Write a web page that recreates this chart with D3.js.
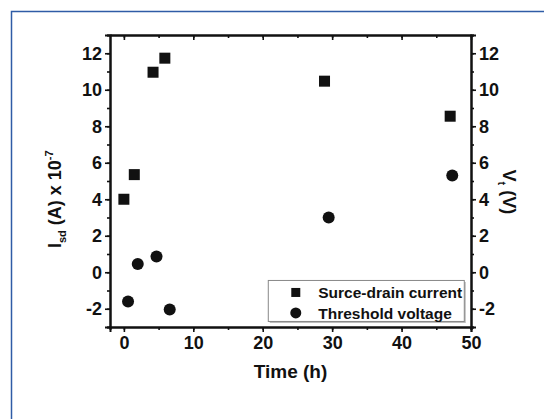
<!DOCTYPE html>
<html>
<head>
<meta charset="utf-8">
<script src="https://cdn.jsdelivr.net/npm/d3@7"></script>
<style>
  body { margin: 0; background: #fff; }
  svg { display: block; }
  text { font-family: "Liberation Sans", Arial, sans-serif; font-weight: bold; fill: #111; }
</style>
</head>
<body>
<div id="chart"></div>
<script>
// data
var timeIsd = [0, 1.5, 4.2, 5.9, 28.9, 47.0];
var isdValues = [4.0, 5.35, 10.96, 11.73, 10.47, 8.55];
var timeVt = [0.6, 2.0, 4.7, 6.6, 29.5, 47.3];
var vtValues = [-1.6, 0.45, 0.86, -2.04, 3.0, 5.3];
var xTicks = [0, 10, 20, 30, 40, 50];
var yTicks = [-2, 0, 2, 4, 6, 8, 10, 12];
var legendLabels = ["Surce-drain current", "Threshold voltage"];

var W = 544, H = 419;
var margin = {top: 35, right: 73, bottom: 92, left: 110},
  width = W - margin.left - margin.right,
  height = H - margin.top - margin.bottom;

var root = d3.select("#chart").append("svg")
  .attr("width", W)
  .attr("height", H);

// blue frame round the figure
root.append("path")
  .attr("d", "M11.5," + H + "V11.5H" + W)
  .attr("fill", "none")
  .attr("stroke", "#2f5ca6")
  .attr("stroke-width", 1.5);

var svg = root.append("g")
  .attr("transform", "translate(" + margin.left + "," + margin.top + ")");

var x = d3.scaleLinear().domain([-2, 50]).range([0, width]);
var y = d3.scaleLinear().domain([-3, 13]).range([height, 0]);
var y2 = d3.scaleLinear().domain([-3, 13]).range([height, 0]);

var minorX = d3.range(0, 51, 5);
var minorY = d3.range(-3, 14, 1);
var fmt = d => String(d);   // plain hyphen for negatives, as in the figure

function styleAxis(g) {
  g.select(".domain").attr("stroke", "#111").attr("stroke-width", 2);
  g.selectAll(".tick line").attr("stroke", "#111").attr("stroke-width", 1.6);
  g.selectAll("text").style("font-size", "18px");
}

// minor ticks first
svg.append("g").attr("transform", "translate(0," + height + ")")
  .call(d3.axisBottom(x).tickValues(minorX).tickSize(3).tickFormat(""))
  .call(styleAxis);
svg.append("g")
  .call(d3.axisTop(x).tickValues(minorX).tickSizeInner(-3).tickSizeOuter(0).tickFormat(""))
  .call(styleAxis);
svg.append("g")
  .call(d3.axisLeft(y).tickValues(minorY).tickSize(3).tickFormat(""))
  .call(styleAxis);
svg.append("g").attr("transform", "translate(" + width + ",0)")
  .call(d3.axisRight(y2).tickValues(minorY).tickSize(3).tickFormat(""))
  .call(styleAxis);

// major ticks and labels
svg.append("g").attr("transform", "translate(0," + height + ")")
  .call(d3.axisBottom(x).tickValues(xTicks).tickSize(5).tickPadding(4).tickFormat(fmt))
  .call(styleAxis);
svg.append("g")
  .call(d3.axisTop(x).tickValues(xTicks).tickSizeInner(-5).tickSizeOuter(0).tickFormat(""))
  .call(styleAxis);
svg.append("g")
  .call(d3.axisLeft(y).tickValues(yTicks).tickSize(5).tickPadding(3).tickFormat(fmt))
  .call(styleAxis);
svg.append("g").attr("transform", "translate(" + width + ",0)")
  .call(d3.axisRight(y2).tickValues(yTicks).tickSize(5).tickPadding(3).tickFormat(fmt))
  .call(styleAxis);

// markers
var sq = 11;
svg.append("g").selectAll("rect")
  .data(timeIsd.map((t, i) => ({t: t, v: isdValues[i]})))
  .enter().append("rect")
  .attr("x", d => x(d.t) - sq / 2)
  .attr("y", d => y(d.v) - sq / 2)
  .attr("width", sq)
  .attr("height", sq)
  .attr("fill", "#111");

svg.append("g").selectAll("circle")
  .data(timeVt.map((t, i) => ({t: t, v: vtValues[i]})))
  .enter().append("circle")
  .attr("cx", d => x(d.t))
  .attr("cy", d => y2(d.v))
  .attr("r", 6)
  .attr("fill", "#111");

// axis titles
svg.append("text")
  .attr("x", width / 2)
  .attr("y", height + 51)
  .attr("text-anchor", "middle")
  .style("font-size", "19px")
  .text("Time (h)");

var yl = svg.append("text")
  .attr("transform", "translate(-49," + (y(4.0)) + ") rotate(-90)")
  .attr("text-anchor", "middle")
  .style("font-size", "18px");
yl.append("tspan").text("I");
yl.append("tspan").attr("dy", 5).style("font-size", "11px").text("sd");
yl.append("tspan").attr("dy", -5).text(" (A) x 10");
yl.append("tspan").attr("dy", -8).style("font-size", "11px").text("-7");

var yr = svg.append("text")
  .attr("transform", "translate(" + (width + 32) + "," + y2(4.4) + ") rotate(90)")
  .attr("text-anchor", "middle")
  .style("font-size", "18px");
yr.append("tspan").text("V");
yr.append("tspan").attr("dy", 5).style("font-size", "11px").text("t");
yr.append("tspan").attr("dy", -5).text(" (V)");

// legend
var lg = svg.append("g").attr("transform", "translate(" + (x(20.8)) + "," + (y(-0.45)) + ")");
lg.append("rect")
  .attr("x", 1.5).attr("y", 1.5)
  .attr("width", 196).attr("height", 41)
  .attr("fill", "#bbb");
lg.append("rect")
  .attr("width", 196).attr("height", 41)
  .attr("fill", "#fff")
  .attr("stroke", "#888")
  .attr("stroke-width", 1);

var items = lg.selectAll(".item")
  .data(legendLabels)
  .enter().append("g")
  .attr("transform", (d, i) => "translate(0," + (12 + i * 20.5) + ")");
items.filter((d, i) => i === 0).append("rect")
  .attr("x", 23).attr("y", -4.5).attr("width", 9).attr("height", 9).attr("fill", "#111");
items.filter((d, i) => i === 1).append("circle")
  .attr("cx", 27.5).attr("r", 5.5).attr("fill", "#111");
items.append("text")
  .attr("x", 50)
  .attr("dy", "0.36em")
  .style("font-size", "15.5px")
  .text(d => d);
</script>
</body>
</html>
